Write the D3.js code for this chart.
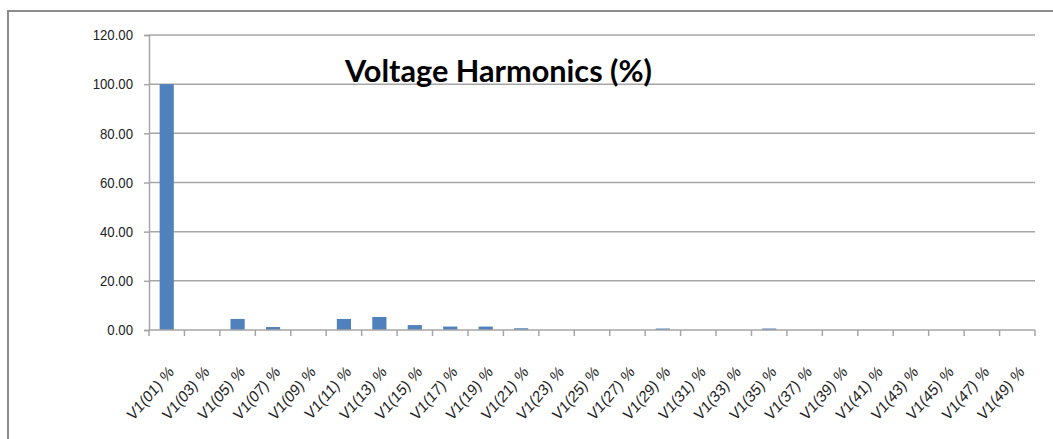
<!DOCTYPE html>
<html>
<head>
<meta charset="utf-8">
<script src="https://cdn.jsdelivr.net/npm/d3@7"></script>
<style>
  html, body { margin: 0; padding: 0; background: #fff; }
  svg { display: block; }
</style>
</head>
<body>
<svg id="chart" width="1053" height="439"></svg>
<script>
// Harmonic orders shown on the category axis
const categories = [
  "V1(01) %", "V1(03) %", "V1(05) %", "V1(07) %", "V1(09) %",
  "V1(11) %", "V1(13) %", "V1(15) %", "V1(17) %", "V1(19) %",
  "V1(21) %", "V1(23) %", "V1(25) %", "V1(27) %", "V1(29) %",
  "V1(31) %", "V1(33) %", "V1(35) %", "V1(37) %", "V1(39) %",
  "V1(41) %", "V1(43) %", "V1(45) %", "V1(47) %", "V1(49) %"
];
// Voltage harmonic magnitude, percent of fundamental
const values = [
  100.0, 0.0, 4.5, 1.2, 0.0,
  4.5, 5.3, 2.0, 1.4, 1.4,
  0.7, 0.0, 0.0, 0.0, 0.6,
  0.0, 0.0, 0.6, 0.0, 0.0,
  0.0, 0.0, 0.0, 0.0, 0.0
];
const yTicks = [0, 20, 40, 60, 80, 100, 120];
const title = "Voltage Harmonics (%)";

const svg = d3.select("#chart");
const plot = { left: 149, right: 1035, top: 35, bottom: 330 };
const labelFont = "'Liberation Sans', Arial, sans-serif";

// Outer chart frame (continues past the visible area on right and bottom)
svg.append("rect")
  .attr("x", 8).attr("y", 11)
  .attr("width", 1100).attr("height", 500)
  .attr("fill", "none").attr("stroke", "#8c8c8c").attr("stroke-width", 2);

const x = d3.scaleBand().domain(categories).range([plot.left, plot.right]).paddingInner(0).paddingOuter(0);
const y = d3.scaleLinear().domain([0, 120]).range([plot.bottom, plot.top]);

// Horizontal gridlines
svg.append("g").selectAll("line").data(yTicks.filter(d => d > 0)).join("line")
  .attr("x1", plot.left).attr("x2", plot.right)
  .attr("y1", d => y(d)).attr("y2", d => y(d))
  .attr("stroke", "#a6a6a6").attr("stroke-width", 1.5);

// Y axis
const yAxis = svg.append("g").attr("transform", `translate(${plot.left},0)`)
  .call(d3.axisLeft(y).tickValues(yTicks).tickFormat(d3.format(".2f")).tickSize(5).tickPadding(0));
yAxis.select(".domain").attr("stroke", "#a6a6a6").attr("stroke-width", 1.5);
yAxis.selectAll(".tick line").attr("stroke", "#a6a6a6").attr("stroke-width", 1.5);
yAxis.selectAll(".tick text")
  .attr("x", null)
  .attr("transform", "translate(-16,0) scale(0.88,1)")
  .attr("font-family", labelFont)
  .attr("font-size", 15).attr("fill", "#222");

// Bars
const barW = x.bandwidth() * 0.4;
svg.append("g").selectAll("rect").data(values).join("rect")
  .attr("x", (d, i) => x(categories[i]) + (x.bandwidth() - barW) / 2)
  .attr("width", barW)
  .attr("y", d => y(d))
  .attr("height", d => y(0) - y(d))
  .attr("fill", "#4f81bd");

// X axis with ticks on category boundaries
const xAxisG = svg.append("g");
xAxisG.append("line")
  .attr("x1", plot.left).attr("x2", plot.right)
  .attr("y1", plot.bottom).attr("y2", plot.bottom)
  .attr("stroke", "#a6a6a6").attr("stroke-width", 1.5);
const bounds = categories.map(c => x(c)).concat([x(categories[categories.length - 1]) + x.bandwidth()]);
xAxisG.selectAll("line.tick").data(bounds).join("line")
  .attr("class", "tick")
  .attr("x1", d => d).attr("x2", d => d)
  .attr("y1", plot.bottom).attr("y2", plot.bottom + 6)
  .attr("stroke", "#a6a6a6").attr("stroke-width", 1.5);
xAxisG.selectAll("text").data(categories).join("text")
  .attr("transform", d => `translate(${x(d) + x.bandwidth() / 2 + 8},${plot.bottom + 43}) scale(0.86,1) rotate(-45)`)
  .attr("text-anchor", "end")
  .attr("font-family", labelFont)
  .attr("font-size", 16.5).attr("fill", "#222")
  .text(d => d);

// Chart title
svg.append("text")
  .attr("x", 345).attr("y", 82)
  .attr("font-family", "Lato, 'Open Sans', sans-serif")
  .attr("font-size", 30)
  .attr("font-weight", 700)
  .attr("textLength", 307).attr("lengthAdjust", "spacingAndGlyphs")
  .attr("fill", "#000")
  .text(title);
</script>
</body>
</html>
